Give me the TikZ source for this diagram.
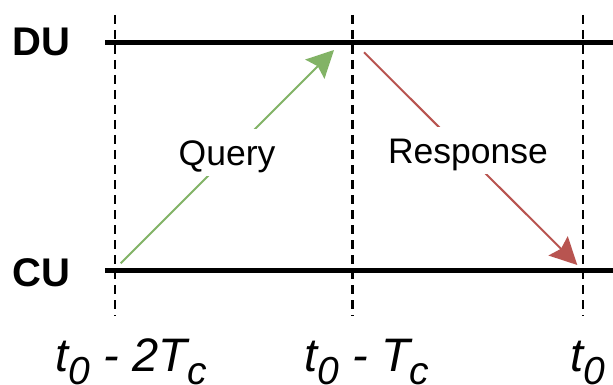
\documentclass[tikz,border=0pt]{standalone}
\usepackage{fontspec}
\setmainfont{Liberation Sans}
\usetikzlibrary{arrows.meta}
\definecolor{qgreen}{HTML}{82B366}
\definecolor{rred}{HTML}{B85450}
\newcommand{\tsub}[1]{\raisebox{-13pt}{\fontsize{39}{39}\selectfont #1}}
\begin{document}
\begin{tikzpicture}[x=1pt,y=-1pt,
  timeline/.style={line width=5pt},
  tickline/.style={line width=2.8pt, dash pattern=on 9pt off 6pt},
  msg/.style={line width=2pt, -{Stealth[length=27pt,width=27pt,inset=4pt]}},
  ent/.style={font=\fontsize{40}{40}\selectfont\bfseries, inner sep=0pt, anchor=base west},
  lbl/.style={font=\fontsize{35.5}{35.5}\selectfont, fill=white, inner xsep=3pt, inner ysep=0pt, text height=36pt, text depth=11pt, anchor=base},
  tlbl/.style={font=\fontsize{47}{47}\selectfont\itshape, inner sep=0pt, anchor=base west}]
\useasboundingbox (0,0) rectangle (613,385);
\fill[white] (0,0) rectangle (613,385);
% entities
\node[ent] (du) at (12.5,55.7) {DU};
\node[ent] (cu) at (12,286) {CU};
% time ticks
\coordinate (t1a) at (115,15);   \coordinate (t1b) at (115,316);
\coordinate (t2a) at (352.5,15); \coordinate (t2b) at (352.5,316);
\coordinate (t3a) at (583,15);   \coordinate (t3b) at (583,316);
\draw[tickline] (t1a) -- (t1b);
\draw[tickline] (t2a) -- (t2b);
\draw[tickline] (t3a) -- (t3b);
% timelines
\coordinate (dul) at (105,42.5); \coordinate (dur) at (613,42.5);
\coordinate (cul) at (105,270.7); \coordinate (cur) at (613,270.7);
\draw[timeline] (dul) -- (dur);
\draw[timeline] (cul) -- (cur);
% messages
\coordinate (qs) at (120.7,263.3); \coordinate (qe) at (334,50);
\coordinate (rs) at (364,52.3);    \coordinate (re) at (577.3,265);
\draw[msg, qgreen] (qs) -- (qe);
\draw[msg, rred] (rs) -- (re);
\node[lbl] (query) at (227,165) {Query};
\node[lbl] (resp) at (468,163.3) {Response};
% time labels
\node[tlbl] (l1) at (55.5,371) {t\tsub{0} - 2T\tsub{c}};
\node[tlbl] (l2) at (304.5,371) {t\tsub{0} - T\tsub{c}};
\node[tlbl] (l3) at (570.5,371) {t\tsub{0}};
\end{tikzpicture}
\end{document}
